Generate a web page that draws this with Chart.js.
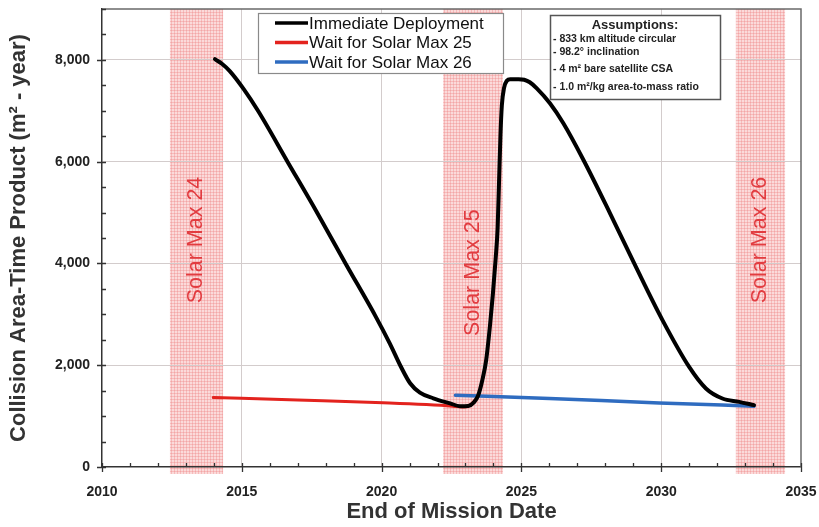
<!DOCTYPE html>
<html>
<head>
<meta charset="utf-8">
<script src="https://cdn.jsdelivr.net/npm/chart.js@4.4.1/dist/chart.umd.min.js"></script>
<style>
  html, body { margin: 0; padding: 0; background: #ffffff; }
  #wrap { width: 819px; height: 527px; }
</style>
</head>
<body>
<div id="wrap"><canvas id="chart" width="819" height="527"></canvas></div>
<script>
// Collision area-time product vs. end-of-mission date
const immediateYears = [2014.04, 2014.3, 2014.57, 2015.05, 2015.58, 2016.65, 2017.65, 2018.72, 2019.8, 2020.3, 2020.7, 2021.02, 2021.37, 2021.85, 2022.45, 2022.8, 2023.1, 2023.3, 2023.45, 2023.6, 2023.74, 2023.88, 2023.98, 2024.08, 2024.15, 2024.2, 2024.25, 2024.3, 2024.38, 2024.48, 2024.6, 2024.9, 2025.1, 2025.3, 2025.55, 2026.02, 2026.5, 2027.22, 2028.17, 2029.1, 2030.05, 2031.0, 2031.6, 2032.19, 2032.79, 2033.32];
const immediateArea  = [8014, 7920, 7780, 7440, 7000, 5985, 5040, 3990, 2946, 2420, 1960, 1645, 1460, 1350, 1250, 1195, 1200, 1270, 1400, 1700, 2100, 2800, 3400, 4100, 4700, 5600, 6500, 7100, 7450, 7590, 7620, 7620, 7610, 7560, 7441, 7147, 6754, 6033, 4985, 3926, 2881, 1966, 1543, 1346, 1280, 1215];

const wait25Years = [2013.98, 2017.0, 2020.05, 2022.55, 2022.9, 2023.1, 2023.25, 2023.4];
const wait25Area  = [1366, 1315, 1261, 1196, 1180, 1195, 1255, 1350];

const wait26Years = [2022.64, 2026.0, 2029.93, 2033.32];
const wait26Area  = [1411, 1345, 1260, 1196];

const seriesNames = ['Immediate Deployment', 'Wait for Solar Max 25', 'Wait for Solar Max 26'];

const solarMaxNames = ['Solar Max 24', 'Solar Max 25', 'Solar Max 26'];
const solarMaxStart = [2012.43, 2022.2, 2032.67];
const solarMaxEnd   = [2014.33, 2024.34, 2034.43];
const solarMaxLabelAt = [4460, 3820, 4460];

const yTickValues = [0, 2000, 4000, 6000, 8000];
const xTickValues = [2010, 2015, 2020, 2025, 2030, 2035];

const assumptionTitle = 'Assumptions:';
const assumptionLines = [
  '- 833 km altitude circular',
  '- 98.2\u00B0 inclination',
  '- 4 m\u00B2 bare satellite CSA',
  '- 1.0 m\u00B2/kg area-to-mass ratio'
];

const FONT = '"Liberation Sans", Arial, sans-serif';

function toPoints(xs, ys) {
  return xs.map((v, i) => ({ x: v, y: ys[i] }));
}

function bandPattern(ctx) {
  const c = document.createElement('canvas');
  c.width = 3; c.height = 3;
  const p = c.getContext('2d');
  p.fillStyle = 'rgba(246, 172, 172, 0.45)';
  p.fillRect(0, 0, 3, 3);
  p.fillStyle = 'rgba(236, 115, 115, 0.3)';
  p.fillRect(0, 0, 3, 1);
  p.fillRect(0, 0, 1, 3);
  return ctx.createPattern(c, 'repeat');
}

// Shaded solar-maximum periods with their rotated labels
const solarBands = {
  id: 'solarBands',
  beforeDraw(chart) {
    const { ctx, chartArea, scales: { x } } = chart;
    ctx.save();
    ctx.fillStyle = bandPattern(ctx);
    for (let i = 0; i < solarMaxStart.length; i++) {
      const x0 = x.getPixelForValue(solarMaxStart[i]);
      const x1 = x.getPixelForValue(solarMaxEnd[i]);
      ctx.fillRect(x0, chartArea.top, x1 - x0, chartArea.bottom - chartArea.top + 7);
    }
    ctx.restore();
  },
  beforeDatasetsDraw(chart) {
    const { ctx, scales: { x, y } } = chart;
    ctx.save();
    ctx.fillStyle = '#e23c40';
    ctx.font = '21.5px ' + FONT;
    ctx.textAlign = 'center';
    ctx.textBaseline = 'middle';
    for (let i = 0; i < solarMaxNames.length; i++) {
      const cx = x.getPixelForValue((solarMaxStart[i] + solarMaxEnd[i]) / 2);
      const cy = y.getPixelForValue(solarMaxLabelAt[i]);
      ctx.save();
      ctx.translate(cx, cy);
      ctx.rotate(-Math.PI / 2);
      ctx.fillText(solarMaxNames[i], 0, 0);
      ctx.restore();
    }
    ctx.restore();
  }
};

// Frame, tick marks, legend and the assumptions note
const frameAndNotes = {
  id: 'frameAndNotes',
  afterDraw(chart) {
    const { ctx, chartArea: a, scales: { x, y } } = chart;
    ctx.save();
    // top and right frame
    ctx.strokeStyle = '#6a6a6a';
    ctx.lineWidth = 1.5;
    ctx.beginPath();
    ctx.moveTo(a.left, a.top); ctx.lineTo(a.right, a.top); ctx.lineTo(a.right, a.bottom);
    ctx.stroke();

    // tick marks
    ctx.strokeStyle = '#333';
    ctx.lineWidth = 1.3;
    ctx.beginPath();
    for (let v = 0; v <= 9000; v += 500) {
      const py = Math.round(y.getPixelForValue(v)) + 0.5;
      if (v % 2000 === 0) { ctx.moveTo(a.left - 5, py); ctx.lineTo(a.left + 4, py); }
      else { ctx.moveTo(a.left, py); ctx.lineTo(a.left + 4, py); }
    }
    for (let v = 2010; v <= 2035; v += 1) {
      const px = Math.round(x.getPixelForValue(v)) + 0.5;
      if (v % 5 === 0) { ctx.moveTo(px, a.bottom + 5); ctx.lineTo(px, a.bottom - 4); }
      else { ctx.moveTo(px, a.bottom); ctx.lineTo(px, a.bottom - 4); }
    }
    ctx.stroke();

    // legend
    const lx = 258, ly = 13, lw = 245, lh = 60;
    ctx.fillStyle = '#fff';
    ctx.fillRect(lx, ly, lw, lh);
    ctx.strokeStyle = '#8a8a8a';
    ctx.lineWidth = 1.2;
    ctx.strokeRect(lx + 0.5, ly + 0.5, lw, lh);
    ctx.font = '17px ' + FONT;
    ctx.textBaseline = 'middle';
    ctx.textAlign = 'left';
    chart.data.datasets.forEach((ds, i) => {
      const yy = ly + 10 + i * 19.5;
      ctx.strokeStyle = ds.borderColor;
      ctx.lineWidth = 3.5;
      ctx.beginPath();
      ctx.moveTo(lx + 17, yy); ctx.lineTo(lx + 50, yy);
      ctx.stroke();
      ctx.fillStyle = '#111';
      ctx.fillText(ds.label, lx + 51, yy + 1);
    });

    // assumptions note
    const bx = 550, by = 15, bw = 170, bh = 84;
    ctx.fillStyle = '#fff';
    ctx.fillRect(bx, by, bw, bh);
    ctx.strokeStyle = '#555';
    ctx.lineWidth = 1.5;
    ctx.strokeRect(bx + 0.5, by + 0.5, bw, bh);
    ctx.fillStyle = '#222';
    ctx.font = 'bold 13px ' + FONT;
    ctx.textAlign = 'center';
    ctx.fillText(assumptionTitle, bx + bw / 2, by + 10);
    ctx.font = 'bold 10.5px ' + FONT;
    ctx.textAlign = 'left';
    const rows = [24, 37, 54, 72];
    assumptionLines.forEach((t, i) => ctx.fillText(t, bx + 3, by + rows[i]));
    ctx.restore();
  }
};

const gridColor = (ctx, edges) => {
  const v = ctx.tick && ctx.tick.value;
  return edges.includes(v) ? 'rgba(0,0,0,0)' : '#d3cccc';
};

const clearPadding = s => { s.paddingLeft = 0; s.paddingRight = 0; s.paddingTop = 0; s.paddingBottom = 0; };

new Chart(document.getElementById('chart'), {
  type: 'scatter',
  data: {
    datasets: [
      { label: seriesNames[0], data: toPoints(immediateYears, immediateArea), borderColor: '#000000', borderWidth: 4 },
      { label: seriesNames[1], data: toPoints(wait25Years, wait25Area), borderColor: '#e3231e', borderWidth: 3 },
      { label: seriesNames[2], data: toPoints(wait26Years, wait26Area), borderColor: '#2f6cc0', borderWidth: 3.5 }
    ].map(d => Object.assign(d, {
      showLine: true, pointRadius: 0, pointHoverRadius: 0, fill: false,
      cubicInterpolationMode: 'monotone', borderCapStyle: 'round', borderJoinStyle: 'round'
    }))
  },
  options: {
    responsive: false,
    animation: false,
    devicePixelRatio: 1,
    layout: { padding: { top: 9, right: 18, left: 0, bottom: 0 } },
    plugins: { legend: { display: false }, tooltip: { enabled: false } },
    scales: {
      x: {
        type: 'linear', min: 2010, max: 2035,
        afterFit(s) { s.height = 60; clearPadding(s); },
        afterBuildTicks(s) { s.ticks = xTickValues.map(v => ({ value: v })); },
        ticks: { callback: v => String(v), padding: 17, color: '#222', font: { family: FONT, size: 14, weight: 'bold' }, maxRotation: 0 },
        grid: { drawTicks: false, color: c => gridColor(c, [2010, 2035]), lineWidth: 1 },
        border: { color: '#333', width: 1.5 },
        title: { display: true, text: 'End of Mission Date', color: '#333', font: { family: FONT, size: 22, weight: 'bold' }, padding: { top: 0, bottom: 2 } }
      },
      y: {
        type: 'linear', min: 0, max: 9000,
        afterFit(s) { s.width = 102; clearPadding(s); },
        afterBuildTicks(s) { s.ticks = yTickValues.map(v => ({ value: v })); },
        ticks: { callback: v => v.toLocaleString('en-US'), padding: 12, color: '#222', font: { family: FONT, size: 14, weight: 'bold' } },
        grid: { drawTicks: false, color: c => gridColor(c, [0, 9000]), lineWidth: 1 },
        border: { color: '#333', width: 1.5 },
        title: { display: true, text: 'Collision Area-Time Product (m\u00B2 - year)', color: '#333', font: { family: FONT, size: 22, weight: 'bold' }, padding: { top: 6, bottom: 0 } }
      }
    }
  },
  plugins: [solarBands, frameAndNotes]
});
</script>
</body>
</html>
